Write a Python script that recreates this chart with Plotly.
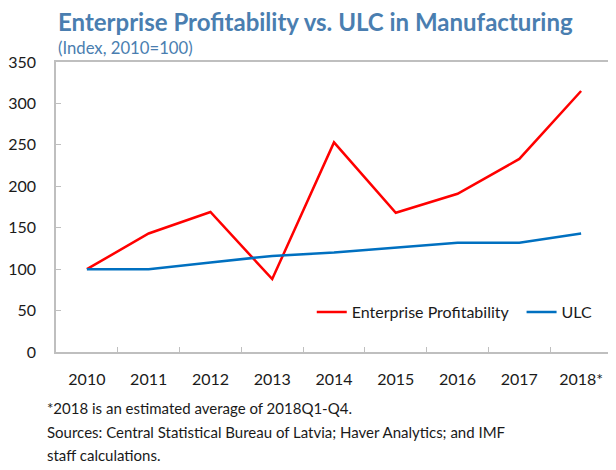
import plotly.graph_objects as go

years = ["2010", "2011", "2012", "2013", "2014", "2015", "2016", "2017", "2018*"]
enterprise_profitability = [100, 143, 169, 88, 253, 168, 191, 233, 315]
ulc = [100, 100, 108, 116, 120, 126, 132, 132, 143]

FONT = "Lato"
TITLE_COLOR = "#4a7eb0"
AXIS_COLOR = "#bfbfbf"

fig = go.Figure()
fig.add_trace(go.Scatter(
    x=years, y=enterprise_profitability, mode="lines",
    # trailing non-breaking spaces widen the gap before the next legend item
    name="Enterprise Profitability\u00a0\u00a0",
    line=dict(color="#ff0000", width=2.5),
))
fig.add_trace(go.Scatter(
    x=years, y=ulc, mode="lines", name="ULC",
    line=dict(color="#0070c0", width=2.5),
))

# the page body has an 8px margin, so the figure is shrunk by that much
fig.update_layout(
    width=608, height=462,
    margin=dict(l=48, r=4, t=54, b=118),
    paper_bgcolor="white", plot_bgcolor="white",
    font=dict(family=FONT, size=16, color="#1a1a1a"),
    showlegend=True,
    legend=dict(
        orientation="h", x=0.46, y=0.138, xanchor="left", yanchor="middle",
        font=dict(size=16), bgcolor="rgba(0,0,0,0)",
        itemwidth=30, tracegroupgap=0,
    ),
    xaxis=dict(
        type="category", range=[-0.5, 8.5], showgrid=False,
        showline=True, mirror=True, linecolor=AXIS_COLOR, linewidth=1.5,
        ticks="inside", tickson="boundaries", ticklen=5, tickcolor=AXIS_COLOR,
        tickfont=dict(size=16), ticklabelstandoff=12, automargin=False,
    ),
    yaxis=dict(
        range=[0, 350], dtick=50, showgrid=False, zeroline=False,
        showline=True, mirror=True, linecolor=AXIS_COLOR, linewidth=1.5,
        ticks="inside", ticklen=5, tickcolor=AXIS_COLOR,
        tickfont=dict(size=16), ticklabelstandoff=15, automargin=False,
    ),
)

annotations = [
    dict(text="<b>Enterprise Profitability vs. ULC in Manufacturing</b>",
         x=0.0, y=1.138, font=dict(size=24, color=TITLE_COLOR)),
    dict(text="(Index, 2010=100)", x=0.0, y=1.048,
         font=dict(size=16.7, color=TITLE_COLOR)),
    dict(text="*2018 is an estimated average of 2018Q1-Q4.",
         x=-0.02, y=-0.193, font=dict(size=15)),
    dict(text="Sources: Central Statistical Bureau of Latvia; Haver Analytics; and IMF",
         x=-0.02, y=-0.276, font=dict(size=15)),
    dict(text="staff calculations.", x=-0.02, y=-0.355, font=dict(size=15)),
]
for a in annotations:
    fig.add_annotation(xref="paper", yref="paper", xanchor="left",
                       yanchor="middle", showarrow=False, **a)

fig.write_html("out.html")
